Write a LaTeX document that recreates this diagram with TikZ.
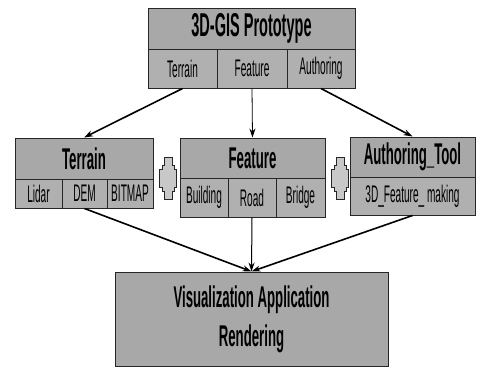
\documentclass[tikz,border=0pt]{standalone}
\usepackage{fontspec}
\usetikzlibrary{arrows.meta}
\newfontfamily\narrowfont{Liberation Sans}[FakeStretch=0.42]
\newfontfamily\narrowbold{Liberation Sans Bold}[FakeStretch=0.44]
\definecolor{headgray}{HTML}{A8A8A8}
\definecolor{cellgray}{HTML}{B0B0B0}
\definecolor{plusgray}{HTML}{C8C8C8}

\begin{document}
\begin{tikzpicture}[x=1pt,y=-1pt,
    cell/.style={draw=black!85, line width=1pt, fill=cellgray, inner sep=0pt,
      font=\narrowfont\fontsize{24}{26}\selectfont},
    head/.style={cell, fill=headgray, font=\narrowbold\fontsize{30}{39}\selectfont},
    link/.style={line width=1.6pt, -{Stealth[length=9pt,width=6pt]}}]
      \useasboundingbox[fill=white] (0,0) rectangle (481,367);
      % prototype
      \node[head, minimum width=207, minimum height=41, font=\narrowbold\fontsize{33}{39}\selectfont] (proto) at (251.5,28.5) {3D-GIS Prototype};
      \node[cell, minimum width=69, minimum height=39] (pT) at (182.5,68.5) {Terrain};
      \node[cell, minimum width=70, minimum height=39] (pF) at (252,68.5) {Feature};
      \node[cell, minimum width=68, minimum height=39] (pA) at (321,68.5) {Authoring};
      % terrain
      \node[head, minimum width=138, minimum height=41] (terrain) at (84,158.5) {Terrain};
      \node[cell, minimum width=47, minimum height=29] (tLidar) at (38.5,193.5) {Lidar};
      \node[cell, minimum width=45, minimum height=29] (tDEM) at (84.5,193.5) {DEM};
      \node[cell, minimum width=46, minimum height=29] (tBit) at (130,193.5) {BITMAP};
      % feature
      \node[head, minimum width=145, minimum height=40] (feature) at (252.5,158) {Feature};
      \node[cell, minimum width=48, minimum height=39] (fBuild) at (204,197.5) {Building};
      \node[cell, minimum width=48, minimum height=39] (fRoad) at (252,197.5) {Road};
      \node[cell, minimum width=49, minimum height=39] (fBridge) at (300.5,197.5) {Bridge};
      % authoring
      \node[head, minimum width=125, minimum height=40] (auth) at (412.5,157) {Authoring\_Tool};
      \node[cell, minimum width=125, minimum height=38] (aMake) at (412.5,196) {3D\_Feature\_ making};
      % visualization
      \node[head, align=center, minimum width=273, minimum height=94] (vis) at (251.5,319) {Visualization Application\\Rendering};
      % plus signs
      \foreach \cx in {168,340}
        \draw[draw=black!85, line width=1pt, fill=plusgray, shift={(\cx,178)}]
          (-4,-21) -- (4,-21) -- (4,-13) -- (6,-13) -- (6,-9) -- (8.5,-9) -- (8.5,9) -- (6,9) -- (6,13)
          -- (4,13) -- (4,21) -- (-4,21) -- (-4,13) -- (-6,13) -- (-6,9) -- (-8.5,9) -- (-8.5,-9)
          -- (-6,-9) -- (-6,-13) -- (-4,-13) -- cycle;
      % arrows
      \draw[link] (pT.south) -- (terrain.north);
      \draw[link, line width=0.8pt] (pF.south) -- (feature.north);
      \draw[link] (pA.south) -- (auth.north);
      \draw[link] (tDEM.south) -- (vis.north);
      \draw[link, line width=1pt] (fRoad.south) -- (vis.north);
      \draw[link] (aMake.south) -- (vis.north);
\end{tikzpicture}
\end{document}
